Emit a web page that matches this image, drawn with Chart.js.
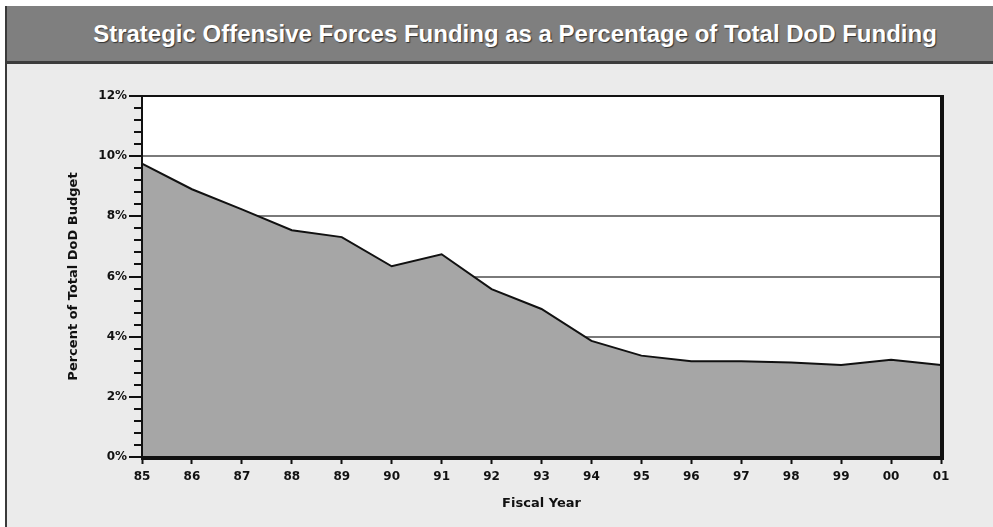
<!DOCTYPE html>
<html>
<head>
<meta charset="utf-8">
<script src="https://cdn.jsdelivr.net/npm/chart.js@4.4.0/dist/chart.umd.min.js"></script>
<style>
  html, body { margin: 0; padding: 0; background: #ffffff; }
  #frame {
    position: absolute; left: 5px; top: 6px; width: 986px; height: 521px;
    border-left: 2px solid #3a3a3a; background: #ebebeb;
  }
  #titlebar {
    height: 58px; background: #7f7f7f; border-bottom: 3px solid #3c3c3c;
    color: #ffffff; font: bold 24px "Liberation Sans Narrow", "Liberation Sans", sans-serif;
    line-height: 55px; text-align: center; padding-left: 30px; box-sizing: border-box;
    text-shadow: 1px 1px 1px #333;
  }
  #chart { display: block; }
</style>
</head>
<body>
<div id="frame">
  <div id="titlebar">Strategic Offensive Forces Funding as a Percentage of Total DoD Funding</div>
  <canvas id="chart" width="986" height="463"></canvas>
</div>
<script>
// fiscal years 1985-2001
const years = ['85', '86', '87', '88', '89', '90', '91', '92', '93', '94', '95', '96', '97', '98', '99', '00', '01'];
// percent of total DoD budget
const sofShare = [9.75, 8.9, 8.23, 7.54, 7.31, 6.34, 6.74, 5.58, 4.92, 3.86, 3.37, 3.18, 3.18, 3.14, 3.06, 3.23, 3.06];
const yTicks = [0, 2, 4, 6, 8, 10, 12];

const tickFont = { family: 'DejaVu Sans', weight: 'bold', size: 12 };

// white plot background, minor ticks and the heavy frame around the plot
const plotFrame = {
    id: 'plotFrame',
    beforeDraw(chart) {
        const { ctx, chartArea: a } = chart;
        ctx.save();
        ctx.fillStyle = '#ffffff';
        ctx.fillRect(a.left, a.top, a.right - a.left, a.bottom - a.top);
        ctx.restore();
    },
    afterDraw(chart) {
        const { ctx, chartArea: a } = chart;
        const y = chart.scales.y;
        ctx.save();
        // minor ticks every 0.4%
        ctx.strokeStyle = '#111';
        ctx.lineWidth = 2;
        for (let i = 0; i <= 30; i++) {
            if (i % 5 === 0) continue;
            const py = Math.round(y.getPixelForValue(i * 0.4));
            ctx.beginPath();
            ctx.moveTo(a.left - 8, py);
            ctx.lineTo(a.left, py);
            ctx.stroke();
        }
        ctx.fillStyle = '#111';
        // top and left: thin
        ctx.fillRect(a.left - 1, a.top - 1, a.right - a.left + 2, 2);
        ctx.fillRect(a.left - 1, a.top - 1, 2, a.bottom - a.top + 2);
        // right and bottom: heavy
        ctx.fillRect(a.right - 1, a.top - 1, 4, a.bottom - a.top + 4);
        ctx.fillRect(a.left - 1, a.bottom - 1, a.right - a.left + 4, 4);
        ctx.restore();
    }
};

const ctx = document.getElementById('chart').getContext('2d');
new Chart(ctx, {
    type: 'line',
    data: {
        labels: years,
        datasets: [{
            data: sofShare,
            fill: 'origin',
            backgroundColor: '#a6a6a6',
            borderColor: '#111111',
            borderWidth: 2,
            pointRadius: 0,
            tension: 0
        }]
    },
    options: {
        responsive: false,
        animation: false,
        layout: { padding: { left: 55, right: 52, top: 32, bottom: 0 } },
        plugins: {
            legend: { display: false },
            tooltip: { enabled: false }
        },
        scales: {
            x: {
                offset: false,
                border: { display: false },
                grid: { drawOnChartArea: false, drawTicks: true, tickLength: 7, tickColor: '#111', tickWidth: 2 },
                ticks: { color: '#111', font: tickFont, padding: 6, maxRotation: 0, autoSkip: false },
                title: {
                    display: true, text: 'Fiscal Year', color: '#111',
                    font: { family: 'DejaVu Sans', weight: 'bold', size: 13 },
                    padding: { top: 0, bottom: 16 }
                },
                afterFit(scale) { scale.height = 70; }
            },
            y: {
                min: 0, max: 12,
                border: { display: false },
                afterBuildTicks(scale) { scale.ticks = yTicks.map(v => ({ value: v })); },
                grid: {
                    color: c => (c.tick.value === 0 || c.tick.value === 12) ? 'rgba(0,0,0,0)' : '#7a7a7a',
                    lineWidth: 2,
                    tickColor: '#111', tickWidth: 2, tickLength: 13
                },
                ticks: { color: '#111', font: { family: 'DejaVu Sans', weight: 'bold', size: 12 }, padding: 2, callback: v => v + '%' },
                title: {
                    display: true, text: 'Percent of Total DoD Budget', color: '#111',
                    font: { family: 'DejaVu Sans', weight: 'bold', size: 13 },
                    padding: { top: 4, bottom: 0 }
                },
                afterFit(scale) { scale.width = 80; }
            }
        }
    },
    plugins: [plotFrame]
});
</script>
</body>
</html>
